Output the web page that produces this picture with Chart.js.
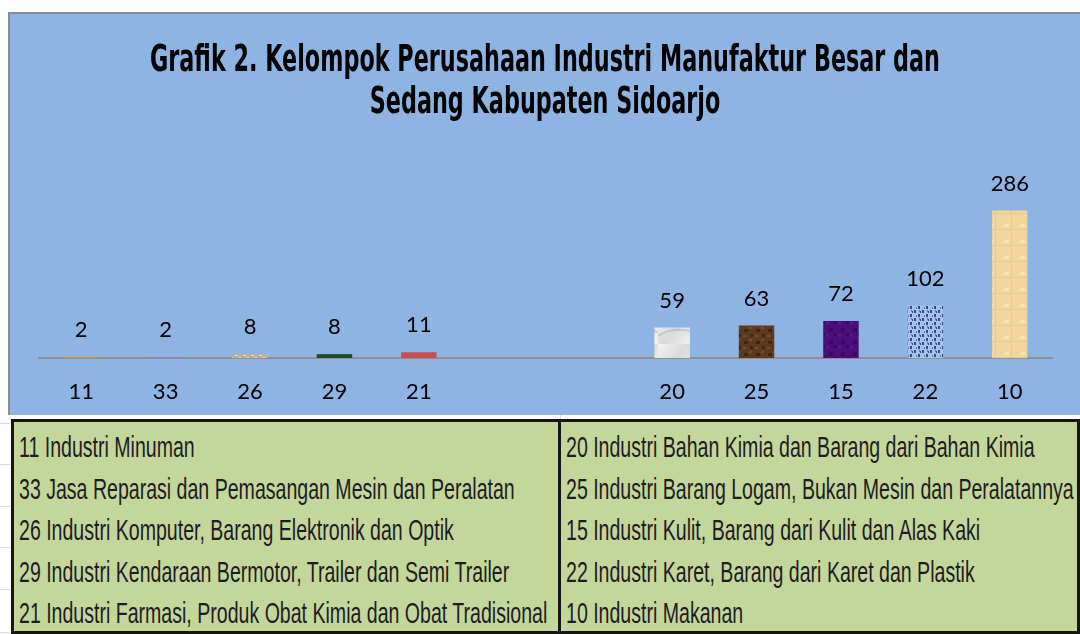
<!DOCTYPE html>
<html>
<head>
<meta charset="utf-8">
<script src="https://cdn.jsdelivr.net/npm/chart.js@4.4.1/dist/chart.umd.min.js"></script>
<style>
    html, body { margin: 0; padding: 0; background: #fff; }
    body { width: 1080px; height: 634px; position: relative; overflow: hidden; }
    #panel {
        position: absolute; left: 8px; top: 12px; width: 1070px; height: 401px;
        background: #8DB4E2; border-left: 2px solid #8c8c8c; border-top: 2px solid #8c8c8c;
    }
    #legendTable {
        position: absolute; left: 11px; top: 419px; width: 1069px; height: 215px;
        box-sizing: border-box; border: 3px solid #161616; background: #C4D79B;
        font-family: 'Liberation Sans', Arial, sans-serif; color: #1f1b24;
    }
    #legendTable .divider { position: absolute; left: 544px; top: 0; width: 3px; height: 100%; background: #161616; }
    #legendTable .row { position: absolute; height: 41.5px; line-height: 41.5px; font-size: 23px; white-space: nowrap; }
    #legendTable .row span { display: inline-block; transform-origin: left center; }
    .grid { position: absolute; background: #dcdcdc; }
</style>
</head>
<body>
<div id="panel"><canvas id="chart" width="1070" height="401"></canvas></div>
<div id="legendTable"><div class="divider"></div></div>

<script>
    // ---- data ----
    var titleLines = [
        'Grafik 2. Kelompok Perusahaan Industri Manufaktur Besar dan',
        'Sedang Kabupaten Sidoarjo'
    ];
    var codes = ['11', '33', '26', '29', '21', '', '', '20', '25', '15', '22', '10'];
    var counts = [2, 2, 8, 8, 11, null, null, 59, 63, 72, 102, 286];
    var legendLeft = [
        '11 Industri Minuman',
        '33 Jasa Reparasi dan Pemasangan Mesin dan Peralatan',
        '26 Industri Komputer, Barang Elektronik dan Optik',
        '29 Industri Kendaraan Bermotor, Trailer dan Semi Trailer',
        '21 Industri Farmasi, Produk Obat Kimia dan Obat Tradisional'
    ];
    var legendRight = [
        '20 Industri Bahan Kimia dan Barang dari Bahan Kimia',
        '25 Industri Barang Logam, Bukan Mesin dan Peralatannya',
        '15 Industri Kulit, Barang dari Kulit dan Alas Kaki',
        '22 Industri Karet, Barang dari Karet dan Plastik',
        '10 Industri Makanan'
    ];

    // ---- legend table (narrow font squeezed to the original column width) ----
    var table = document.getElementById('legendTable');
    function addRows(list, x) {
        var spans = [];
        for (var i = 0; i < list.length; i++) {
            var r = document.createElement('div');
            r.className = 'row';
            r.style.left = x + 'px';
            r.style.top = (5 + i * 41.5) + 'px';
            var s = document.createElement('span');
            s.textContent = list[i];
            r.appendChild(s);
            table.appendChild(r);
            spans.push(s);
        }
        return spans;
    }
    var leftSpans = addRows(legendLeft, 5);
    var rightSpans = addRows(legendRight, 552);
    var widest = 0;
    leftSpans.forEach(function (s) { widest = Math.max(widest, s.offsetWidth); });
    var sx = 528 / widest;
    leftSpans.concat(rightSpans).forEach(function (s) {
        s.style.transform = 'scale(' + sx + ', 1.25)';
    });

    // faint sheet gridlines peeking out round the table
    [423, 464, 506, 547, 589, 632].forEach(function (y) {
        var g = document.createElement('div');
        g.className = 'grid';
        g.style.cssText = 'left:0;top:' + y + 'px;width:10px;height:1px;';
        document.body.appendChild(g);
    });
    var gv = document.createElement('div');
    gv.className = 'grid';
    gv.style.cssText = 'left:560px;top:415px;width:1px;height:4px;';
    document.body.appendChild(gv);

    // ---- textured fills ----
    function tile(w, h, paint) {
        var c = document.createElement('canvas');
        c.width = w; c.height = h;
        var g = c.getContext('2d');
        paint(g, w, h);
        return g.createPattern(c, 'repeat');
    }
    var fills = [
        '#D98A3A',
        '#A774B8',
        tile(8, 4, function (g) { g.fillStyle = '#BFAE94'; g.fillRect(0, 0, 8, 4); g.fillStyle = '#E8E0D2'; g.fillRect(1, 1, 3, 1); g.fillRect(5, 3, 2, 1); }),
        tile(6, 4, function (g) { g.fillStyle = '#1E4A2A'; g.fillRect(0, 0, 6, 4); g.fillStyle = '#2E6040'; g.fillRect(0, 0, 6, 1); }),
        '#C9504B',
        null,
        null,
        tile(36, 30, function (g) {
            var gr = g.createLinearGradient(0, 0, 36, 30);
            gr.addColorStop(0, '#F2F2F2'); gr.addColorStop(0.5, '#DADADA'); gr.addColorStop(1, '#F4F4F4');
            g.fillStyle = gr; g.fillRect(0, 0, 36, 30);
            g.strokeStyle = 'rgba(170,170,170,0.5)'; g.lineWidth = 2;
            g.beginPath(); g.moveTo(0, 22); g.quadraticCurveTo(14, 12, 36, 18); g.stroke();
        }),
        tile(12, 12, function (g) {
            g.fillStyle = '#5B3A1D'; g.fillRect(0, 0, 12, 12);
            g.fillStyle = '#3F2611'; g.fillRect(2, 3, 4, 3); g.fillRect(8, 8, 3, 3);
            g.fillStyle = '#77502C'; g.fillRect(7, 1, 3, 2); g.fillRect(1, 9, 3, 2);
        }),
        tile(12, 12, function (g) {
            g.fillStyle = '#4B0E7A'; g.fillRect(0, 0, 12, 12);
            g.fillStyle = '#3A0962'; g.fillRect(3, 2, 4, 4); g.fillRect(8, 7, 3, 3);
            g.fillStyle = '#561A88'; g.fillRect(0, 8, 3, 3);
        }),
        tile(8, 8, function (g) {
            g.fillStyle = '#A9C0E8'; g.fillRect(0, 0, 8, 8);
            g.fillStyle = '#2D4C92'; g.fillRect(0, 0, 2, 3); g.fillRect(4, 4, 2, 3); g.fillRect(6, 1, 1, 2);
            g.fillStyle = '#5D7DBD'; g.fillRect(2, 5, 1, 2); g.fillRect(5, 0, 1, 2);
        }),
        tile(16, 16, function (g) {
            g.fillStyle = '#F1D69D'; g.fillRect(0, 0, 16, 16);
            g.fillStyle = 'rgba(205,178,120,0.3)'; g.fillRect(0, 7, 16, 1); g.fillRect(9, 0, 1, 16);
            g.fillStyle = 'rgba(255,240,200,0.5)'; g.fillRect(2, 2, 5, 3);
        })
    ];

    // ---- plugins ----
    var titlePlugin = {
        id: 'condensedTitle',
        afterDraw: function (chart) {
            var ctx = chart.ctx;
            var cx = 535;
            var ys = [57, 99];
            ctx.save();
            ctx.font = 'bold 38px "DejaVu Sans Condensed", sans-serif';
            ctx.fillStyle = '#000';
            ctx.textAlign = 'center';
            ctx.textBaseline = 'alphabetic';
            var k = 790 / ctx.measureText(titleLines[0]).width;
            for (var i = 0; i < titleLines.length; i++) {
                ctx.save();
                ctx.translate(cx, ys[i]);
                ctx.scale(k, 1);
                ctx.fillText(titleLines[i], 0, 0);
                ctx.restore();
            }
            ctx.restore();
        }
    };

    var valueLabels = {
        id: 'valueLabels',
        afterDatasetsDraw: function (chart) {
            var ctx = chart.ctx;
            var meta = chart.getDatasetMeta(0);
            ctx.save();
            ctx.font = '22px Lato, "Noto Sans", sans-serif';
            ctx.fillStyle = '#000';
            ctx.textAlign = 'center';
            ctx.textBaseline = 'middle';
            meta.data.forEach(function (bar, i) {
                var v = counts[i];
                if (v === null || v === undefined) return;
                ctx.fillText(String(v), bar.x, bar.y - 27);
            });
            ctx.restore();
        }
    };

    new Chart(document.getElementById('chart').getContext('2d'), {
        type: 'bar',
        data: {
            labels: codes,
            datasets: [{
                data: counts,
                backgroundColor: fills,
                borderWidth: 0,
                barPercentage: 0.42,
                categoryPercentage: 1
            }]
        },
        options: {
            responsive: false,
            animation: false,
            layout: { padding: { top: 179, left: 29, right: 28, bottom: 9 } },
            plugins: {
                legend: { display: false },
                title: { display: false },
                tooltip: { enabled: false }
            },
            scales: {
                x: {
                    grid: { display: false, drawTicks: false },
                    border: { display: true, color: '#8f8f8f', width: 2 },
                    ticks: { color: '#000', font: { family: 'Lato, "Noto Sans", sans-serif', size: 22 }, padding: 21, maxRotation: 0, autoSkip: false },
                    afterFit: function (scale) { scale.height = 48; }
                },
                y: {
                    display: false,
                    min: 0,
                    max: 320
                }
            }
        },
        plugins: [titlePlugin, valueLabels]
    });
</script>
</body>
</html>
